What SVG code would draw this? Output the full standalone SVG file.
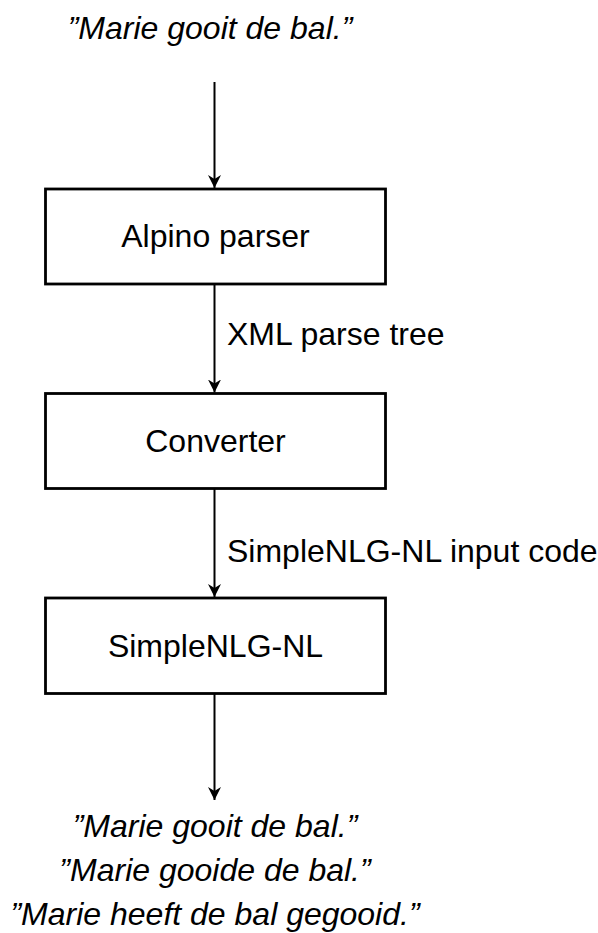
<svg xmlns="http://www.w3.org/2000/svg" width="598" height="933" viewBox="0 0 598 933">
<defs>
<style>
.box{fill:#fff;stroke:#000;stroke-width:2.8}
.t{font-family:"Liberation Sans",Arial,sans-serif;font-size:32px;fill:#000}
.c{text-anchor:middle}
.i{font-style:italic}
.edge{stroke:#000;stroke-width:2;fill:none;marker-end:url(#arr)}
</style>
<marker id="arr" markerUnits="userSpaceOnUse" markerWidth="13" markerHeight="13" refX="10" refY="5" orient="auto" viewBox="0 0 10 10">
<path d="M0,0 L10,5 L0,10 L3,5 Z" fill="#000"/>
</marker>
</defs>
<rect width="598" height="933" fill="#fff"/>
<g id="connectors">
<line class="edge" x1="214.5" y1="82" x2="214.5" y2="188"/>
<line class="edge" x1="214.5" y1="284" x2="214.5" y2="392.5"/>
<line class="edge" x1="214.5" y1="489" x2="214.5" y2="597"/>
<line class="edge" x1="214.5" y1="694" x2="214.5" y2="800"/>
</g>
<g id="input">
<text class="t c i" x="210" y="39">”Marie gooit de bal.”</text>
</g>
<g id="alpino">
<rect class="box" x="45.5" y="189" width="340" height="95"/>
<text class="t c" x="215.5" y="247">Alpino parser</text>
</g>
<g id="label1">
<text class="t" x="227" y="345">XML parse tree</text>
</g>
<g id="converter">
<rect class="box" x="45.5" y="393.5" width="340" height="95"/>
<text class="t c" x="215.5" y="452">Converter</text>
</g>
<g id="label2">
<text class="t" x="227" y="562">SimpleNLG-NL input code</text>
</g>
<g id="simplenlg">
<rect class="box" x="45.5" y="598" width="340" height="95.5"/>
<text class="t c" x="215.5" y="657">SimpleNLG-NL</text>
</g>
<g id="output">
<text class="t c i" x="215" y="837">”Marie gooit de bal.”</text>
<text class="t c i" x="215" y="881">”Marie gooide de bal.”</text>
<text class="t c i" x="215" y="925">”Marie heeft de bal gegooid.”</text>
</g>
</svg>
